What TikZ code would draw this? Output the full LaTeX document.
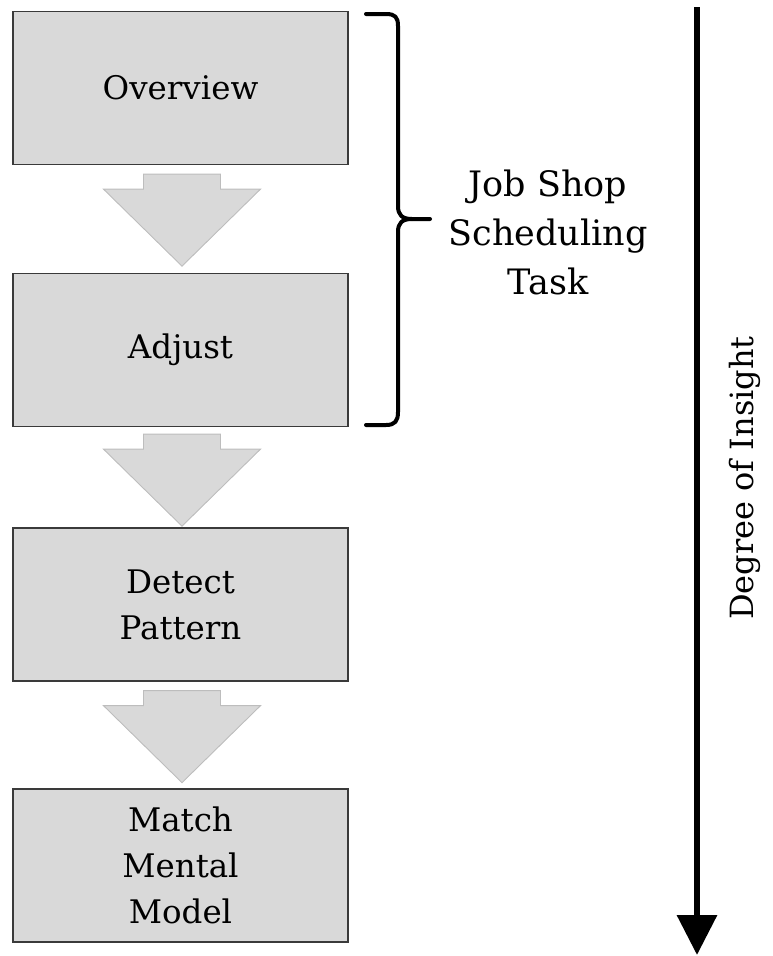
\documentclass[tikz,border=0pt]{standalone}
\usepackage{fontspec}
\setmainfont{DejaVu Serif}
\usetikzlibrary{arrows.meta,calc}
\definecolor{boxfill}{HTML}{D9D9D9}
\definecolor{boxline}{HTML}{3A3A3A}
\definecolor{flowline}{HTML}{BDBDBD}
\tikzset{
  stage/.style={draw=boxline, fill=boxfill, line width=1.3pt,
    minimum width=335pt, minimum height=153pt, inner sep=0pt,
    align=center, font=\fontsize{32.5}{46}\selectfont},
  flowarrow/.style={draw=flowline, fill=boxfill, line width=0.9pt, line join=miter},
  downflow/.pic={
    \path[flowarrow] (-38.5,0) -- (38.5,0) -- (38.5,-15) -- (78.5,-15)
      -- (0,-92) -- (-78.5,-15) -- (-38.5,-15) -- cycle;
  },
  bracestroke/.style={draw=black, line width=4pt, line cap=round, line join=round},
  insightaxis/.style={draw=black, line width=6.5pt,
    -{Triangle[length=40pt,width=39pt]}},
}
\begin{document}
\begin{tikzpicture}[x=1pt,y=1pt]
  \useasboundingbox (0,0) rectangle (773,-956);

  % process stages
  \node[stage] (ov) at (180.5,-88)    {Overview};
  \node[stage] (ad) at (180.5,-350)   {Adjust};
  \node[stage] (dp) at (180.5,-604.5) {Detect\\Pattern};
  \node[stage] (mm) at (180.5,-865.5) {Match\\Mental\\Model};

  % block arrows between the stages
  \pic at ($(ov.south)+(1.5,-9)$) {downflow};
  \pic at ($(ad.south)+(1.5,-7)$) {downflow};
  \pic at ($(dp.south)+(1.5,-9)$) {downflow};

  % curly brace around the first two stages
  \coordinate (bt) at (366,-14);
  \coordinate (bm) at (430,-219);
  \coordinate (bb) at (366,-425);
  \path[bracestroke] (bt) -- (386,-14) .. controls (395,-14) and (398,-17) .. (398,-26)
    -- (398,-206) .. controls (398,-215) and (402,-219) .. (412,-219) -- (bm);
  \path[bracestroke] (412,-219) .. controls (402,-219) and (398,-223) .. (398,-232)
    -- (398,-412) .. controls (398,-421) and (395,-425) .. (386,-425) -- (bb);
  \node[font=\fontsize{35}{49}\selectfont, align=center] (jss) at (548,-232)
    {Job Shop\\Scheduling\\Task};

  % insight axis
  \coordinate (axtop) at (697,-7);
  \coordinate (axend) at (697,-955);
  \path[insightaxis] (axtop) -- (axend);
  \node[rotate=90, font=\fontsize{32}{38}\selectfont] (doi) at (745,-478)
    {Degree of Insight};
\end{tikzpicture}
\end{document}
